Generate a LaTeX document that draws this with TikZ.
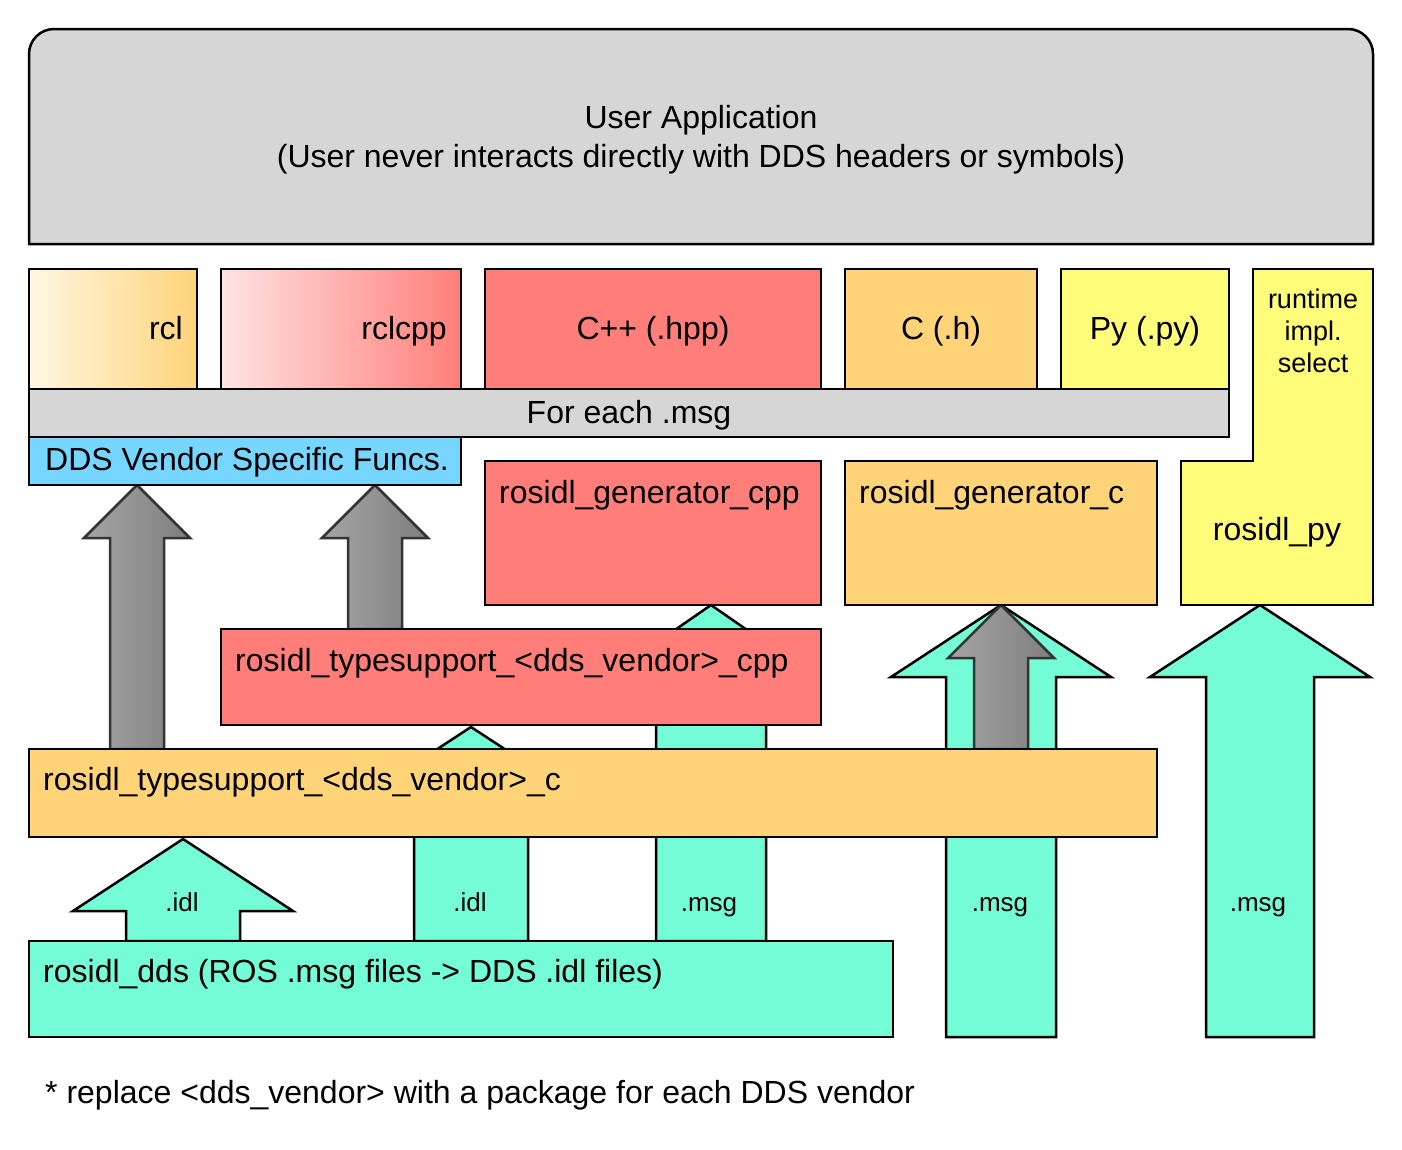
\documentclass[tikz,border=0pt]{standalone}
\usepackage{fontspec}
\setmainfont{Liberation Sans}
\definecolor{cSilver}{HTML}{D6D6D6}
\definecolor{cSalmon}{HTML}{FF7E79}
\definecolor{cOrange}{HTML}{FFD479}
\definecolor{cYellow}{HTML}{FFFC79}
\definecolor{cSky}{HTML}{76D6FF}
\definecolor{cAqua}{HTML}{73FCD6}
\definecolor{cRclL}{HTML}{FFF6E3}
\definecolor{cCppL}{HTML}{FFE3E3}
\definecolor{cArrL}{HTML}{A5A5A5}
\definecolor{cArrR}{HTML}{7E7E7E}
\definecolor{cArrD}{HTML}{333333}
\newcommand\blockarrow[7]{%
  \path[#7] (#1,#2) -- ({#1+#3},#4) -- ({#1+#5},#4) -- ({#1+#5},#6)
    -- ({#1-#5},#6) -- ({#1-#5},#4) -- ({#1-#3},#4) -- cycle;}
\begin{document}
\begin{tikzpicture}[x=1pt,y=-1pt,
  box/.style={draw=black, line width=2.5pt, inner sep=0pt, outer sep=0pt, anchor=north west},
  lbl/.style={inner sep=0pt, font=\fontsize{32}{38}\selectfont, text height=24pt, text depth=7pt},
  small/.style={inner sep=0pt, font=\fontsize{26}{32}\selectfont},
  grayarrow/.style={draw=cArrD, line width=2.5pt, left color=cArrL, right color=cArrR},
  aquaarrow/.style={draw=black, line width=2.5pt, fill=cAqua}]
\useasboundingbox (0,0) rectangle (1402,1149);

% top box with rounded top corners
\filldraw[draw=black, line width=2.5pt, fill=cSilver]
  (29,244) -- (29,54) .. controls (29,40.2) and (40.2,29) .. (54,29)
  -- (1348,29) .. controls (1361.8,29) and (1373,40.2) .. (1373,54)
  -- (1373,244) -- cycle;
\node[lbl, anchor=base] (user1) at (701,128) {User Application};
\node[lbl, anchor=base] (user2) at (701,167) {(User never interacts directly with DDS headers or symbols)};

% arrows (behind boxes)
\blockarrow{137}{485}{53}{538}{27}{749}{grayarrow}
\blockarrow{375}{485}{53}{538}{27}{629}{grayarrow}
\blockarrow{183}{839}{110}{911}{57}{941}{aquaarrow}
\blockarrow{471}{727}{110}{799}{57}{941}{aquaarrow}
\blockarrow{711}{605}{104}{677}{55}{941}{aquaarrow}
\blockarrow{1001}{605}{110}{677}{55}{1037}{aquaarrow}
\blockarrow{1001}{605}{53}{658}{27}{749}{grayarrow}
\blockarrow{1260}{605}{110}{677}{54}{1037}{aquaarrow}

% row of boxes
\node[box, left color=cRclL, right color=cOrange, minimum width=168pt, minimum height=120pt] (rcl) at (29,269) {};
\node[box, left color=cCppL, right color=cSalmon, minimum width=240pt, minimum height=120pt] (rclcpp) at (221,269) {};
\node[box, fill=cSalmon, minimum width=336pt, minimum height=120pt] (hpp) at (485,269) {};
\node[box, fill=cOrange, minimum width=192pt, minimum height=120pt] (ch) at (845,269) {};
\node[box, fill=cYellow, minimum width=168pt, minimum height=120pt] (pyy) at (1061,269) {};
\filldraw[draw=black, line width=2.5pt, fill=cYellow] (1253,269) -- (1373,269) -- (1373,605) -- (1181,605) -- (1181,461) -- (1253,461) -- cycle;

\node[box, fill=cSilver, minimum width=1200pt, minimum height=48pt] (foreach) at (29,389) {};
\node[box, fill=cSky, minimum width=432pt, minimum height=48pt] (ddsf) at (29,437) {};
\node[box, fill=cSalmon, minimum width=336pt, minimum height=144pt] (gencpp) at (485,461) {};
\node[box, fill=cOrange, minimum width=312pt, minimum height=144pt] (genc) at (845,461) {};
\node[box, fill=cSalmon, minimum width=600pt, minimum height=96pt] (tscpp) at (221,629) {};
\node[box, fill=cOrange, minimum width=1128pt, minimum height=88pt] (tsc) at (29,749) {};
\node[box, fill=cAqua, minimum width=864pt, minimum height=96pt] (dds) at (29,941) {};

% texts
\node[lbl, anchor=east] (trcl) at (183,331) {rcl};
\node[lbl, anchor=east] (trclcpp) at (447,331) {rclcpp};
\node[lbl] (thpp) at (653,331) {C++ (.hpp)};
\node[lbl] (tch) at (941,331) {C (.h)};
\node[lbl] (tpy) at (1145,331) {Py (.py)};
\node[small, align=center, font=\fontsize{27}{32}\selectfont] (trt) at (1313,331) {runtime\\impl.\\select};
\node[lbl] (trpy) at (1277,532) {rosidl\_py};
\node[lbl] (tfe) at (629,415) {For each .msg};
\node[lbl, anchor=west] (tddsf) at (45,462) {DDS Vendor Specific Funcs.};
\node[lbl, anchor=west] (tgencpp) at (499,495) {rosidl\_generator\_cpp};
\node[lbl, anchor=west] (tgenc) at (859,495) {rosidl\_generator\_c};
\node[lbl, anchor=west] (ttscpp) at (235,663) {rosidl\_typesupport\_<dds\_vendor>\_cpp};
\node[lbl, anchor=west] (ttsc) at (43,782) {rosidl\_typesupport\_<dds\_vendor>\_c};
\node[lbl, anchor=west] (tdds) at (43,974) {rosidl\_dds (ROS .msg files -> DDS .idl files)};
\node[lbl, anchor=base west] (tnote) at (45,1103) {* replace <dds\_vendor> with a package for each DDS vendor};

% arrow labels
\node[small, anchor=base] (l1) at (182,911) {.idl};
\node[small, anchor=base] (l2) at (470,911) {.idl};
\node[small, anchor=base] (l3) at (709,911) {.msg};
\node[small, anchor=base] (l4) at (1000,911) {.msg};
\node[small, anchor=base] (l5) at (1258,911) {.msg};
\end{tikzpicture}
\end{document}
